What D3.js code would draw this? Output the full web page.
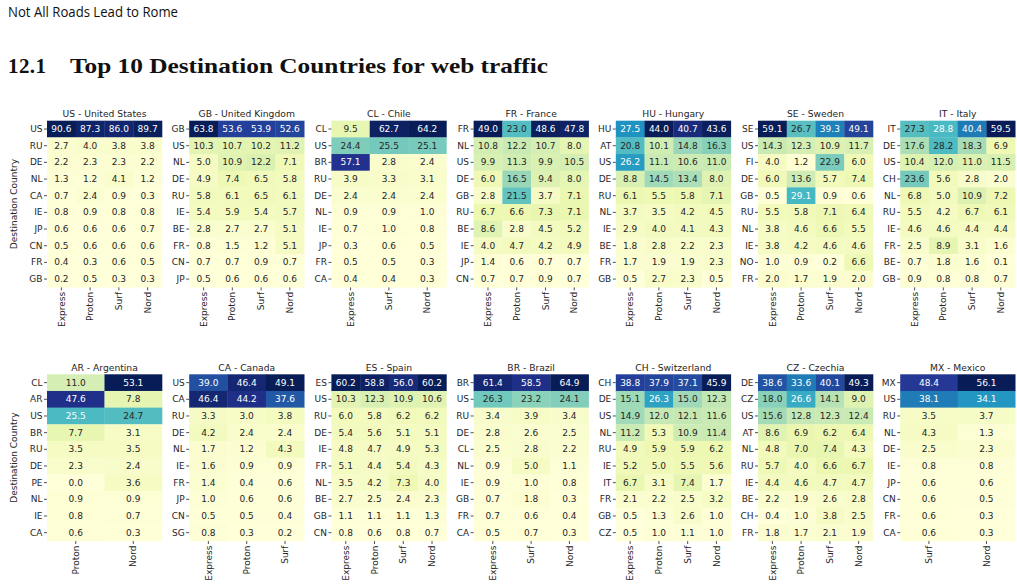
<!DOCTYPE html>
<html>
<head>
<meta charset="utf-8">
<script src="https://cdn.jsdelivr.net/npm/d3@7"></script>
<style>
  body { margin: 0; background: #fff; }
  svg { display: block; }
</style>
</head>
<body>
<div id="chart"></div>
<script>
// panel titles, in reading order (top row then bottom row)
const panelTitles = [
  "US - United States", "GB - United Kingdom", "CL - Chile", "FR - France",
  "HU - Hungary", "SE - Sweden", "IT - Italy",
  "AR - Argentina", "CA - Canada", "ES - Spain", "BR - Brazil",
  "CH - Switzerland", "CZ - Czechia", "MX - Mexico"
];

// vpn providers shown in each panel
const panelColumns = [
  ["Express", "Proton", "Surf", "Nord"],
  ["Express", "Proton", "Surf", "Nord"],
  ["Express", "Surf", "Nord"],
  ["Express", "Proton", "Surf", "Nord"],
  ["Express", "Proton", "Surf", "Nord"],
  ["Express", "Proton", "Surf", "Nord"],
  ["Express", "Proton", "Surf", "Nord"],
  ["Proton", "Nord"],
  ["Express", "Proton", "Surf"],
  ["Express", "Proton", "Surf", "Nord"],
  ["Express", "Surf", "Nord"],
  ["Express", "Proton", "Surf", "Nord"],
  ["Express", "Proton", "Surf", "Nord"],
  ["Surf", "Nord"]
];

// destination countries (rows) of each panel
const panelRows = [
  ["US", "RU", "DE", "NL", "CA", "IE", "JP", "CN", "FR", "GB"],
  ["GB", "US", "NL", "DE", "RU", "IE", "BE", "FR", "CN", "JP"],
  ["CL", "US", "BR", "RU", "DE", "NL", "IE", "JP", "FR", "CA"],
  ["FR", "NL", "US", "DE", "GB", "RU", "BE", "IE", "JP", "CN"],
  ["HU", "AT", "US", "DE", "RU", "NL", "IE", "BE", "FR", "GB"],
  ["SE", "US", "FI", "DE", "GB", "RU", "NL", "IE", "NO", "FR"],
  ["IT", "DE", "US", "CH", "NL", "RU", "IE", "FR", "BE", "GB"],
  ["CL", "AR", "US", "BR", "RU", "DE", "PE", "NL", "IE", "CA"],
  ["US", "CA", "RU", "DE", "NL", "IE", "FR", "JP", "CN", "SG"],
  ["ES", "US", "RU", "DE", "IE", "FR", "NL", "BE", "GB", "CN"],
  ["BR", "US", "RU", "DE", "CL", "NL", "IE", "GB", "FR", "CA"],
  ["CH", "DE", "US", "NL", "RU", "IE", "IT", "FR", "GB", "CZ"],
  ["DE", "CZ", "US", "AT", "NL", "RU", "IE", "BE", "CH", "FR"],
  ["MX", "US", "RU", "NL", "DE", "IE", "JP", "CN", "FR", "CA"]
];

// share of traffic (%), one row per destination, one value per provider
const panelValues = [
  [[90.6, 87.3, 86.0, 89.7], [2.7, 4.0, 3.8, 3.8], [2.2, 2.3, 2.3, 2.2], [1.3, 1.2, 4.1, 1.2], [0.7, 2.4, 0.9, 0.3],
   [0.8, 0.9, 0.8, 0.8], [0.6, 0.6, 0.6, 0.7], [0.5, 0.6, 0.6, 0.6], [0.4, 0.3, 0.6, 0.5], [0.2, 0.5, 0.3, 0.3]],
  [[63.8, 53.6, 53.9, 52.6], [10.3, 10.7, 10.2, 11.2], [5.0, 10.9, 12.2, 7.1], [4.9, 7.4, 6.5, 5.8], [5.8, 6.1, 6.5, 6.1],
   [5.4, 5.9, 5.4, 5.7], [2.8, 2.7, 2.7, 5.1], [0.8, 1.5, 1.2, 5.1], [0.7, 0.7, 0.9, 0.7], [0.5, 0.6, 0.6, 0.6]],
  [[9.5, 62.7, 64.2], [24.4, 25.5, 25.1], [57.1, 2.8, 2.4], [3.9, 3.3, 3.1], [2.4, 2.4, 2.4],
   [0.9, 0.9, 1.0], [0.7, 1.0, 0.8], [0.3, 0.6, 0.5], [0.5, 0.5, 0.3], [0.4, 0.4, 0.3]],
  [[49.0, 23.0, 48.6, 47.8], [10.8, 12.2, 10.7, 8.0], [9.9, 11.3, 9.9, 10.5], [6.0, 16.5, 9.4, 8.0], [2.8, 21.5, 3.7, 7.1],
   [6.7, 6.6, 7.3, 7.1], [8.6, 2.8, 4.5, 5.2], [4.0, 4.7, 4.2, 4.9], [1.4, 0.6, 0.7, 0.7], [0.7, 0.7, 0.9, 0.7]],
  [[27.5, 44.0, 40.7, 43.6], [20.8, 10.1, 14.8, 16.3], [26.2, 11.1, 10.6, 11.0], [8.8, 14.5, 13.4, 8.0], [6.1, 5.5, 5.8, 7.1],
   [3.7, 3.5, 4.2, 4.5], [2.9, 4.0, 4.1, 4.3], [1.8, 2.8, 2.2, 2.3], [1.7, 1.9, 1.9, 2.3], [0.5, 2.7, 2.3, 0.5]],
  [[59.1, 26.7, 39.3, 49.1], [14.3, 12.3, 10.9, 11.7], [4.0, 1.2, 22.9, 6.0], [6.0, 13.6, 5.7, 7.4], [0.5, 29.1, 0.9, 0.6],
   [5.5, 5.8, 7.1, 6.4], [3.8, 4.6, 6.6, 5.5], [3.8, 4.2, 4.6, 4.6], [1.0, 0.9, 0.2, 6.6], [2.0, 1.7, 1.9, 2.0]],
  [[27.3, 28.8, 40.4, 59.5], [17.6, 28.2, 18.3, 6.9], [10.4, 12.0, 11.0, 11.5], [23.6, 5.6, 2.8, 2.0], [6.8, 5.0, 10.9, 7.2],
   [5.5, 4.2, 6.7, 6.1], [4.6, 4.6, 4.4, 4.4], [2.5, 8.9, 3.1, 1.6], [0.7, 1.8, 1.6, 0.1], [0.9, 0.8, 0.8, 0.7]],
  [[11.0, 53.1], [47.6, 7.8], [25.5, 24.7], [7.7, 3.1], [3.5, 3.5],
   [2.3, 2.4], [0.0, 3.6], [0.9, 0.9], [0.8, 0.7], [0.6, 0.3]],
  [[39.0, 46.4, 49.1], [46.4, 44.2, 37.6], [3.3, 3.0, 3.8], [4.2, 2.4, 2.4], [1.7, 1.2, 4.3],
   [1.6, 0.9, 0.9], [1.4, 0.4, 0.6], [1.0, 0.6, 0.6], [0.5, 0.5, 0.4], [0.8, 0.3, 0.2]],
  [[60.2, 58.8, 56.0, 60.2], [10.3, 12.3, 10.9, 10.6], [6.0, 5.8, 6.2, 6.2], [5.4, 5.6, 5.1, 5.1], [4.8, 4.7, 4.9, 5.3],
   [5.1, 4.4, 5.4, 4.3], [3.5, 4.2, 7.3, 4.0], [2.7, 2.5, 2.4, 2.3], [1.1, 1.1, 1.1, 1.3], [0.8, 0.6, 0.8, 0.7]],
  [[61.4, 58.5, 64.9], [26.3, 23.2, 24.1], [3.4, 3.9, 3.4], [2.8, 2.6, 2.5], [2.5, 2.8, 2.2],
   [0.9, 5.0, 1.1], [0.9, 1.0, 0.8], [0.7, 1.8, 0.3], [0.7, 0.6, 0.4], [0.5, 0.7, 0.3]],
  [[38.8, 37.9, 37.1, 45.9], [15.1, 26.3, 15.0, 12.3], [14.9, 12.0, 12.1, 11.6], [11.2, 5.3, 10.9, 11.4], [4.9, 5.9, 5.9, 6.2],
   [5.2, 5.0, 5.5, 5.6], [6.7, 3.1, 7.4, 1.7], [2.1, 2.2, 2.5, 3.2], [0.5, 1.3, 2.6, 1.0], [0.5, 1.0, 1.1, 1.0]],
  [[38.6, 33.6, 40.1, 49.3], [18.0, 26.6, 14.1, 9.0], [15.6, 12.8, 12.3, 12.4], [8.6, 6.9, 6.2, 6.4], [4.8, 7.0, 7.4, 4.3],
   [5.7, 4.0, 6.6, 6.7], [4.4, 4.6, 4.7, 4.7], [2.2, 1.9, 2.6, 2.8], [0.4, 1.0, 3.8, 2.5], [1.8, 1.7, 2.1, 1.9]],
  [[48.4, 56.1], [38.1, 34.1], [3.5, 3.7], [4.3, 1.3], [2.5, 2.3],
   [0.8, 0.8], [0.6, 0.6], [0.6, 0.5], [0.6, 0.3], [0.6, 0.3]]
];

var width = 1017,
  height = 586;

var svg = d3.select("#chart")
  .append("svg")
  .attr("width", width)
  .attr("height", height);

var ink = "#262626";
var tickFont = "'DejaVu Sans', sans-serif";

// page header
svg.append("text")
  .text("Not All Roads Lead to Rome")
  .attr("x", 8)
  .attr("y", 17)
  .attr("font-family", "'Open Sans', sans-serif")
  .attr("font-size", "14px")
  .attr("textLength", 170)
  .attr("lengthAdjust", "spacingAndGlyphs")
  .attr("fill", "#111");

// section title
svg.append("text")
  .text("12.1")
  .attr("x", 8)
  .attr("y", 73)
  .attr("font-family", "'Liberation Serif', serif")
  .attr("font-weight", "bold")
  .attr("font-size", "21px")
  .attr("textLength", 38)
  .attr("fill", "#111");

svg.append("text")
  .text("Top 10 Destination Countries for web traffic")
  .attr("x", 70)
  .attr("y", 73)
  .attr("font-family", "'Liberation Serif', serif")
  .attr("font-weight", "bold")
  .attr("font-size", "21px")
  .attr("textLength", 478)
  .attr("lengthAdjust", "spacingAndGlyphs")
  .attr("fill", "#111");

// seaborn YlGnBu, linear between the 9 colorbrewer stops like matplotlib does
var ylgnbu = d3.schemeYlGnBu[9];
var cmap = d3.scaleLinear()
  .domain(d3.range(9).map(i => i / 8))
  .range(ylgnbu)
  .interpolate(d3.interpolateRgb);

// same rule seaborn uses to choose annotation colour
function textColor(c) {
  var rgb = d3.rgb(c);
  var lin = [rgb.r, rgb.g, rgb.b].map(v => {
    v = v / 255;
    return v <= 0.03928 ? v / 12.92 : Math.pow((v + 0.055) / 1.055, 2.4);
  });
  var lum = 0.2126 * lin[0] + 0.7152 * lin[1] + 0.0722 * lin[2];
  return lum > 0.408 ? ink : "#ffffff";
}

var panelX0 = 47, panelStep = 142.2, panelW = 115;
var rowY0 = [120.7, 374.3], panelH = 166.7;

panelTitles.forEach((title, i) => {
  var row = Math.floor(i / 7),
    col = i % 7;
  var x0 = panelX0 + col * panelStep,
    y0 = rowY0[row];

  var cols = panelColumns[i],
    rows = panelRows[i],
    vals = panelValues[i];

  var x = d3.scaleBand().domain(cols).range([x0, x0 + panelW]);
  var y = d3.scaleBand().domain(rows).range([y0, y0 + panelH]);

  // each panel has its own colour range
  var flat = vals.flat();
  var norm = d3.scaleLinear().domain(d3.extent(flat)).range([0, 1]);

  var cells = [];
  rows.forEach((r, ri) => {
    cols.forEach((c, ci) => {
      cells.push({ row: r, col: c, value: vals[ri][ci] });
    });
  });

  var g = svg.append("g");

  g.selectAll("rect")
    .data(cells)
    .join("rect")
    .attr("x", d => x(d.col))
    .attr("y", d => y(d.row))
    .attr("width", x.bandwidth() + 0.3)
    .attr("height", y.bandwidth() + 0.3)
    .attr("fill", d => cmap(norm(d.value)));

  g.selectAll("text.annot")
    .data(cells)
    .join("text")
    .attr("class", "annot")
    .attr("x", d => x(d.col) + x.bandwidth() / 2)
    .attr("y", d => y(d.row) + y.bandwidth() / 2)
    .attr("text-anchor", "middle")
    .attr("dominant-baseline", "central")
    .attr("font-family", tickFont)
    .attr("font-size", "9px")
    .attr("fill", d => textColor(cmap(norm(d.value))))
    .text(d => d.value.toFixed(1));

  // panel title
  g.append("text")
    .text(title)
    .attr("x", x0 + panelW / 2)
    .attr("y", y0 - 3.5)
    .attr("text-anchor", "middle")
    .attr("font-family", tickFont)
    .attr("font-size", "9.2px")
    .attr("fill", ink);

  // y axis: destination country
  var yAxis = d3.axisLeft(y).tickSize(3).tickPadding(1.5);
  var ya = g.append("g")
    .attr("transform", "translate(" + x0 + ",0)")
    .call(yAxis);
  ya.select(".domain").remove();
  ya.selectAll("line").attr("stroke", ink).attr("stroke-width", 0.8);
  ya.selectAll("text")
    .attr("font-family", tickFont)
    .attr("font-size", "9px")
    .attr("fill", ink);

  // x axis: provider, rotated labels
  var xAxis = d3.axisBottom(x).tickSize(3).tickPadding(1.5);
  var xa = g.append("g")
    .attr("transform", "translate(0," + (y0 + panelH) + ")")
    .call(xAxis);
  xa.select(".domain").remove();
  xa.selectAll("line").attr("stroke", ink).attr("stroke-width", 0.8);
  xa.selectAll("text")
    .attr("font-family", tickFont)
    .attr("font-size", "9px")
    .attr("fill", ink)
    .attr("transform", "rotate(-90)")
    .attr("x", -4.5)
    .attr("y", 0)
    .attr("dy", "0.35em")
    .attr("text-anchor", "end");

  // axis label only on the first panel of each row
  if (col === 0) {
    svg.append("text")
      .text("Destination Country")
      .attr("transform", "translate(17," + (y0 + panelH / 2) + ") rotate(-90)")
      .attr("text-anchor", "middle")
      .attr("font-family", tickFont)
      .attr("font-size", "9px")
      .attr("fill", ink);
  }
});
</script>
</body>
</html>
